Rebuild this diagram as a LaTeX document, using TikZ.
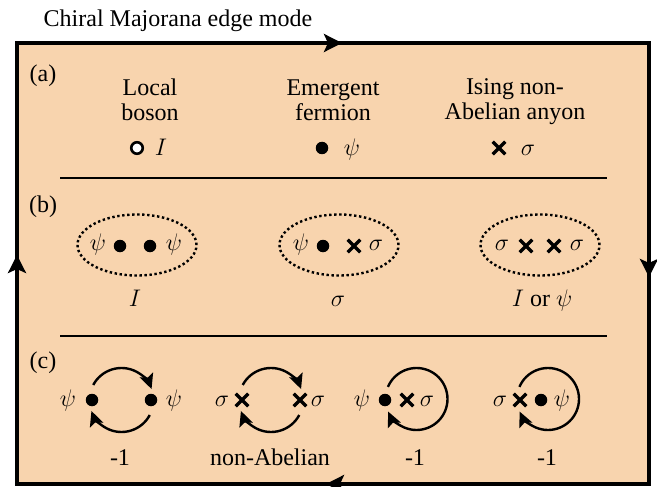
\RequirePackage{fix-cm}
\documentclass[tikz,border=0pt]{standalone}
\usepackage{fontspec}
\setmainfont{Liberation Serif}
\usepackage{tikz}
\usetikzlibrary{arrows.meta,shapes.misc,shapes.geometric,positioning}
\definecolor{peach}{RGB}{248,212,174}

\begin{document}
\begin{tikzpicture}[x=1pt,y=-1pt,
        font=\fontsize{24}{25}\selectfont,
        fermion/.style={circle, fill=black, inner sep=0pt, minimum size=12.5pt},
        boson/.style={circle, draw=black, fill=white, line width=2.6pt, inner sep=0pt, minimum size=11.5pt},
        vortex/.style={cross out, draw=black, line width=3.2pt, inner sep=0pt, minimum size=9.5pt},
        fusion/.style={ellipse, draw=black, line width=2.4pt, dash pattern=on 2.4pt off 2.6pt,
          inner sep=0pt, minimum width=119pt, minimum height=61pt},
        braid/.style={line width=2.4pt, -{Stealth[length=15pt,width=14pt,inset=3pt]}},
        flow/.style={line width=4pt, -{Stealth[length=18pt,width=18pt,inset=4pt]}}]
        \useasboundingbox (0,0) rectangle (657,487);
        % Sample with its chiral edge
        \fill[peach] (17,43) rectangle (649,484);
        \draw[line width=4pt] (17,43) rectangle (649,484);
        \draw[flow] (316,43) -- (342,43);
        \draw[flow] (649,250) -- (649,277);
        \draw[flow] (352,484) -- (326,484);
        \draw[flow] (17,282) -- (17,255);
        \node[anchor=base] (title) at (178,27) {Chiral Majorana edge mode};
        % Panel tags and separators
        \node[anchor=base] (tagA) at (43,82) {(a)};
        \node[anchor=base] (tagB) at (43,212) {(b)};
        \node[anchor=base] (tagC) at (43,368) {(c)};
        \draw[line width=2pt] (60,178) -- (607,178);
        \draw[line width=2pt] (60,336) -- (607,336);
        % (a) the three kinds of particles
        \node[align=center] (kindI) at (150,100) {Local\\boson};
        \node[align=center] (kindPsi) at (333,100) {Emergent\\fermion};
        \node[align=center] (kindSigma) at (515,102) {Ising non-\\Abelian anyon};
        \node[boson] (aI) at (137,148) {};
        \node[anchor=base] (aIlab) at (161,156) {$I$};
        \node[fermion] (aPsi) at (322,148) {};
        \node[anchor=base] (aPsilab) at (352,156) {$\psi$};
        \node[vortex] (aSigma) at (499,148) {};
        \node[anchor=base] (aSigmalab) at (528,156) {$\sigma$};
        % (b) fusion of two particles
        \node[fusion] (ringA) at (137,245) {};
        \node[fusion] (ringB) at (339,245) {};
        \node[fusion] (ringC) at (540,245) {};
        \foreach \x in {98,174,301} \node[anchor=base] (bpsi\x) at (\x,250) {$\psi$};
        \foreach \x in {376,502,577} \node[anchor=base] (bsig\x) at (\x,250) {$\sigma$};
        \foreach \x in {120,150,323} \node[fermion] (bf\x) at (\x,246) {};
        \foreach \x in {354,526,554} \node[vortex] (bv\x) at (\x,246) {};
        \node[anchor=base] (outA) at (135,306) {$I$};
        \node[anchor=base] (outB) at (338,306) {$\sigma$};
        \node[anchor=base] (outC) at (542,306) {$I$ or $\psi$};
        % (c) exchange and braiding
        \foreach \x in {68,174,362} \node[anchor=base] (cpsi\x) at (\x,406) {$\psi$};
        \node[anchor=base] (cpsi562) at (562,406) {$\psi$};
        \foreach \x in {222,318,427,500} \node[anchor=base] (csig\x) at (\x,406) {$\sigma$};
        \foreach \x in {92,151,385,541} \node[fermion] (cf\x) at (\x,400) {};
        \foreach \x in {242,300,407,520} \node[vortex] (cv\x) at (\x,400) {};
        \coordinate (swapA) at (121.5,400);
        \coordinate (swapB) at (271,400);
        \coordinate (loopC) at (416.5,399);
        \coordinate (loopD) at (548,399);
        \foreach \c in {swapA,swapB} {
            \draw[braid] ([shift={(-152:32)}]\c) arc[start angle=-152, end angle=-20, radius=32];
            \draw[braid] ([shift={(28:32)}]\c) arc[start angle=28, end angle=160, radius=32];
          }
        \foreach \c in {loopC,loopD}
            \draw[braid] ([shift={(-157:31)}]\c) arc[start angle=-157, end angle=156, radius=31];
        \node[anchor=base] (phaseA) at (120,465) {-1};
        \node[anchor=base] (phaseB) at (270,465) {non-Abelian};
        \node[anchor=base] (phaseC) at (415,465) {-1};
        \node[anchor=base] (phaseD) at (547,465) {-1};
      \end{tikzpicture}
\end{document}
